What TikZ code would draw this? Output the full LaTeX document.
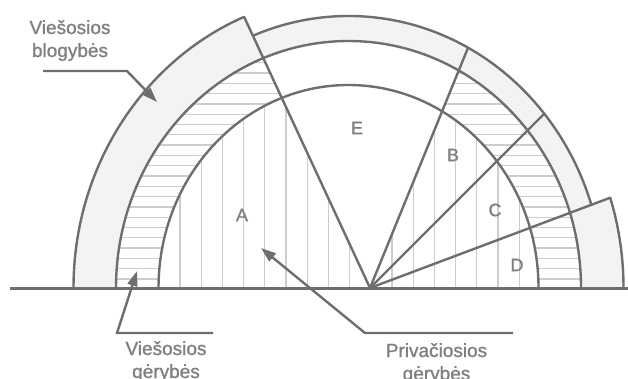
\documentclass[tikz,border=0pt]{standalone}
\usepackage{fontspec}
\setmainfont{Liberation Sans}[BoldFont=Liberation Sans, BoldFeatures={FakeBold=1.2}]
\usetikzlibrary{arrows.meta, calc, intersections}
\definecolor{linegray}{RGB}{110,110,110}
\definecolor{bandgray}{RGB}{243,243,243}
\definecolor{hatchgray}{RGB}{205,205,205}
\definecolor{textgray}{RGB}{128,128,128}
\tikzset{
    outline/.style={draw=linegray, line width=2.4pt},
    spoke/.style={draw=linegray, line width=2.4pt, line cap=round},
    hatch/.style={draw=hatchgray, line width=1.3pt},
    leader/.style={draw=linegray, line width=2.4pt, -{Triangle[length=15pt, width=10pt]}},
    goodslabel/.style={text=textgray, font=\fontsize{19}{23}\selectfont\bfseries, align=center, anchor=base, inner sep=0pt},
    sectorlabel/.style={text=textgray, font=\fontsize{18}{20}\selectfont\bfseries, inner sep=0pt},
    innerE/.style={x radius=190pt, y radius=203pt},
    midE/.style={x radius=232.5pt, y radius=247pt},
    outerE/.style={x radius=255pt, y radius=272pt},
    bigE/.style={x radius=275pt, y radius=293pt}
}

\begin{document}
\begin{tikzpicture}[x=1pt, y=1pt]
    \useasboundingbox (0,0) rectangle (628,378);
    % spoke angles
    \def \aE {114.9}
    \def \aB {67.8}
    \def \aC {45}
    \def \aD {20.6}
    \coordinate (O) at (370,90);
    \coordinate (M) at (348.5,90);
    % bands
    \begin{scope}
    \clip (O) -- +(180:600) -- +(\aE:600) -- cycle (O) -- +(\aD:600) -- +(0:600) -- cycle;
    \fill[bandgray] (M) ellipse [bigE];
    \end{scope}
    \begin{scope}
    \clip (O) -- +(\aE:600) -- +(\aD:600) -- cycle;
    \fill[bandgray] (M) ellipse [outerE];
    \end{scope}
    \fill[white] (M) ellipse [midE];
    % hatching, none in E
    \begin{scope}
    \clip (O) -- +(180:600) -- +(\aE:600) -- cycle (O) -- +(\aB:600) -- +(0:600) -- cycle;
    \begin{scope}
    \clip (M) ellipse [midE];
    \foreach \k in {0,...,23}
        \draw[hatch] (100,{99+10.3*\k}) -- (600,{99+10.3*\k});
    \end{scope}
    \fill[white] (M) ellipse [innerE];
    \clip (M) ellipse [innerE];
    \foreach \k in {0,...,16}
        \draw[hatch] ({180+21.2*\k},90) -- ++(0,220);
    \end{scope}
    % outlines
    \begin{scope}
    \clip (O) -- +(180:600) -- +(\aE:600) -- cycle (O) -- +(\aD:600) -- +(0:600) -- cycle;
    \draw[outline] (M) ellipse [bigE];
    \end{scope}
    \begin{scope}
    \clip (O) -- +(\aE:600) -- +(\aD:600) -- cycle;
    \draw[outline] (M) ellipse [outerE];
    \end{scope}
    \draw[outline] ($(M)+(190,0)$) arc [start angle=0, end angle=180, innerE];
    \draw[outline] ($(M)+(232.5,0)$) arc [start angle=0, end angle=180, midE];
    % spokes
    \path[name path=bigpath] (M) ellipse [bigE];
    \path[name path=outerpath] (M) ellipse [outerE];
    \path[name path=rayE] (O) -- +(\aE:400);
    \path[name path=rayB] (O) -- +(\aB:400);
    \path[name path=rayC] (O) -- +(\aC:400);
    \path[name path=rayD] (O) -- +(\aD:400);
    \path[name intersections={of=bigpath and rayE, by=tipE}];
    \path[name intersections={of=outerpath and rayB, by=tipB}];
    \path[name intersections={of=outerpath and rayC, by=tipC}];
    \path[name intersections={of=bigpath and rayD, by=tipD}];
    \draw[spoke] (O) -- (tipE);
    \draw[spoke] (O) -- (tipB);
    \draw[spoke] (O) -- (tipC);
    \draw[spoke] (O) -- (tipD);
    \coordinate (base0) at (10,90);
    \coordinate (base1) at (628,90);
    \draw[outline, line width=3pt] (base0) -- (base1);
    % sectors
    \node[sectorlabel] (A) at (242,163) {A};
    \node[sectorlabel] (E) at (357,250) {E};
    \node[sectorlabel] (B) at (453,223) {B};
    \node[sectorlabel] (C) at (495,168) {C};
    \node[sectorlabel] (D) at (517,113) {D};
    % labels (base = last line)
    \node[goodslabel] (badlabel) at (70,321) {Viešosios\\blogybės};
    \node[goodslabel] (publabel) at (166,0) {Viešosios\\gėrybės};
    \node[goodslabel] (privlabel) at (436.5,-2) {Privačiosios\\gėrybės};
    \coordinate (bad0) at (43,307);
    \coordinate (bad1) at (127,307);
    \coordinate (badtip) at (157,276);
    \coordinate (pub0) at (213,45);
    \coordinate (pub1) at (117,45);
    \coordinate (pubtip) at (137,107);
    \coordinate (priv0) at (513,45);
    \coordinate (priv1) at (365,45);
    \coordinate (privtip) at (261,130);
    \draw[leader] (bad0) -- (bad1) -- (badtip);
    \draw[leader] (pub0) -- (pub1) -- (pubtip);
    \draw[leader] (priv0) -- (priv1) -- (privtip);
\end{tikzpicture}
\end{document}
